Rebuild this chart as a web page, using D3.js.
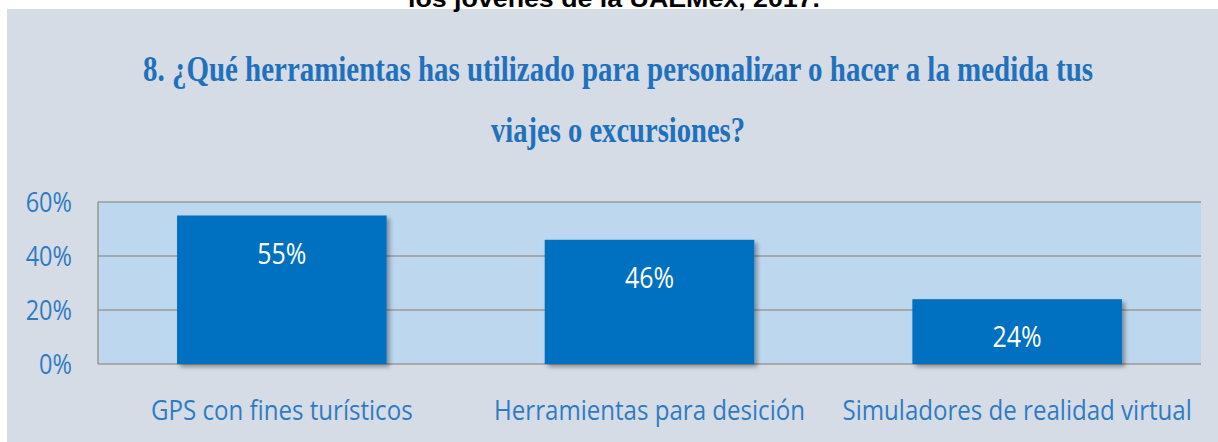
<!DOCTYPE html>
<html>
<head>
<meta charset="utf-8">
<script src="https://cdn.jsdelivr.net/npm/d3@7"></script>
<style>
  body { margin: 0; background: #ffffff; }
  svg { display: block; }
</style>
</head>
<body>
<div id="chart"></div>
<script>
// data
const categories = ["GPS con fines turísticos", "Herramientas para desición", "Simuladores de realidad virtual"];
const values = [55, 46, 24];
const yTicks = [0, 20, 40, 60];
const titleLines = [
  "8. ¿Qué herramientas has utilizado para personalizar o hacer a la medida tus",
  "viajes o excursiones?"
];
const headerText = "los jóvenes de la UAEMex, 2017.";

const W = 1218, H = 442;
const margin = { top: 202, right: 17, bottom: 78, left: 98 };
const width = W - margin.left - margin.right;
const height = H - margin.top - margin.bottom;

const svg = d3.select("#chart").append("svg")
  .attr("width", W)
  .attr("height", H);

// drop shadow for bars
const defs = svg.append("defs");
const f = defs.append("filter").attr("id", "shadow")
  .attr("x", "-10%").attr("y", "-10%").attr("width", "125%").attr("height", "125%");
f.append("feDropShadow")
  .attr("dx", 3).attr("dy", 3).attr("stdDeviation", 2)
  .attr("flood-color", "#000").attr("flood-opacity", 0.35);

// panel background
svg.append("rect")
  .attr("x", 7).attr("y", 9)
  .attr("width", W - 7).attr("height", H - 9)
  .attr("fill", "#d6dce5");

// cropped header text from the line above the chart
svg.append("text")
  .attr("x", 614).attr("y", 7)
  .attr("text-anchor", "middle")
  .attr("font-family", "Liberation Sans, Arial, sans-serif")
  .attr("font-weight", "bold")
  .attr("font-size", 24)
  .attr("textLength", 412)
  .attr("lengthAdjust", "spacingAndGlyphs")
  .attr("fill", "#000")
  .text(headerText);

// title
const titleY = [81, 142];
const titleW = [950, 254];
svg.selectAll(".title").data(titleLines).enter().append("text")
  .attr("class", "title")
  .attr("x", 618)
  .attr("y", (d, i) => titleY[i])
  .attr("text-anchor", "middle")
  .attr("font-family", "Liberation Serif, serif")
  .attr("font-weight", "bold")
  .attr("font-size", 35)
  .attr("textLength", (d, i) => titleW[i])
  .attr("lengthAdjust", "spacingAndGlyphs")
  .attr("fill", "#1f70bd")
  .text(d => d);

const g = svg.append("g")
  .attr("transform", "translate(" + margin.left + "," + margin.top + ")");

// scales
const x = d3.scaleBand().domain(categories).range([0, width])
  .paddingInner(0.43).paddingOuter(0.215);
const y = d3.scaleLinear().domain([0, 60]).range([height, 0]);

// plot area
g.append("rect")
  .attr("x", 0).attr("y", 0)
  .attr("width", width).attr("height", height)
  .attr("fill", "#bdd7ee");

// gridlines
g.selectAll(".grid").data(yTicks).enter().append("line")
  .attr("class", "grid")
  .attr("x1", 0).attr("x2", width)
  .attr("y1", d => y(d)).attr("y2", d => y(d))
  .attr("stroke", "#9a9a9a")
  .attr("stroke-width", 1.6);

g.append("line")
  .attr("x1", 0).attr("x2", 0)
  .attr("y1", 0).attr("y2", height)
  .attr("stroke", "#9a9a9a")
  .attr("stroke-width", 1.6);

// bars
g.selectAll(".bar").data(values).enter().append("rect")
  .attr("class", "bar")
  .attr("x", (d, i) => x(categories[i]))
  .attr("y", d => y(d))
  .attr("width", x.bandwidth())
  .attr("height", d => height - y(d))
  .attr("fill", "#0070c0")
  .attr("filter", "url(#shadow)");

const condensed = "Open Sans, sans-serif";

// value labels
g.selectAll(".val").data(values).enter().append("text")
  .attr("class", "val")
  .attr("transform", (d, i) =>
    "translate(" + (x(categories[i]) + x.bandwidth() / 2) + "," + (y(d) + 48) + ") scale(0.86,1)")
  .attr("text-anchor", "middle")
  .attr("font-family", condensed)
  .attr("font-size", 29)
  .attr("fill", "#ffffff")
  .text(d => d + "%");

// y axis labels
g.selectAll(".ytick").data(yTicks).enter().append("text")
  .attr("class", "ytick")
  .attr("transform", d => "translate(-26," + (y(d) + 10) + ") scale(0.84,1)")
  .attr("text-anchor", "end")
  .attr("font-family", condensed)
  .attr("font-size", 28)
  .attr("fill", "#2e7bc4")
  .text(d => d + "%");

// x axis labels
g.selectAll(".xlab").data(categories).enter().append("text")
  .attr("class", "xlab")
  .attr("transform", d =>
    "translate(" + (x(d) + x.bandwidth() / 2) + "," + (height + 56) + ") scale(0.86,1)")
  .attr("text-anchor", "middle")
  .attr("font-family", condensed)
  .attr("font-size", 28)
  .attr("fill", "#2e7bc4")
  .text(d => d);
</script>
</body>
</html>
